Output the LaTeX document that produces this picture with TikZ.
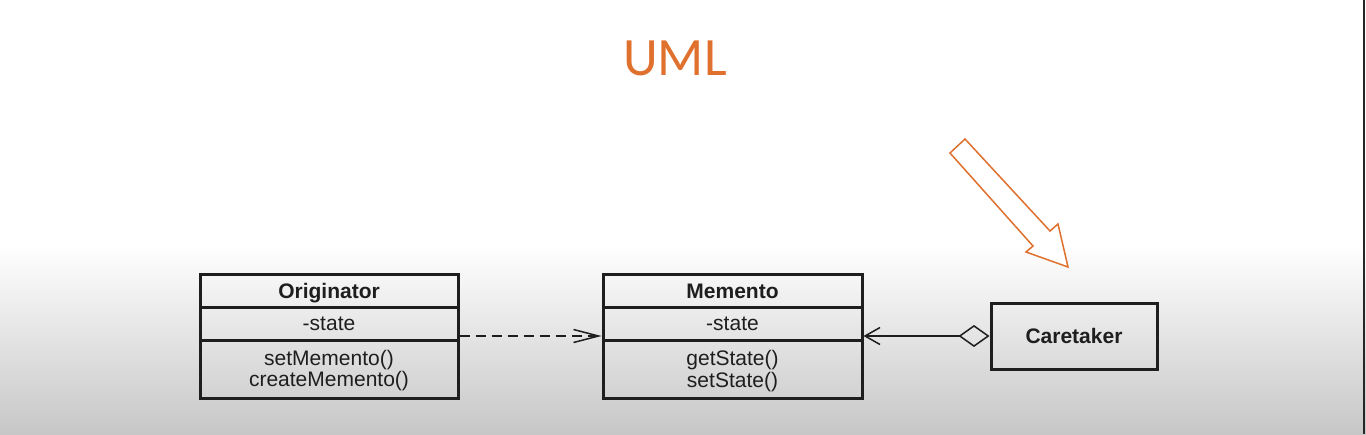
\documentclass[tikz,border=0pt]{standalone}
\usepackage{fontspec}
\setmainfont{Liberation Sans}
\newfontfamily\titlefont{Carlito}
\usetikzlibrary{arrows.meta}
\definecolor{umlorange}{HTML}{E0702E}
\definecolor{inkc}{HTML}{1E1E1E}
\tikzset{
  classbox/.style={draw=inkc, line width=3pt, rectangle, inner sep=0pt},
  sepline/.style={draw=inkc, line width=3pt},
  txt/.style={anchor=base, inner sep=0pt, text=inkc, font=\fontsize{21}{24}\selectfont},
  btxt/.style={txt, font=\fontsize{21}{24}\selectfont\bfseries},
  dep/.style={draw=inkc, line width=1.5pt, dash pattern=on 10pt off 6pt, -{Straight Barb[length=25pt,width=13pt,line width=1.5pt]}},
  agg/.style={draw=inkc, line width=1.5pt, {Straight Barb[length=15pt,width=17pt,line width=1.5pt]}-{Diamond[open,length=31pt,width=22pt,line width=1.5pt]}},
  bigarrow/.style={draw=umlorange, line width=1.5pt, fill=white, line join=miter}
}
\begin{document}
\begin{tikzpicture}[x=1pt,y=-1pt]
\useasboundingbox (0,0) rectangle (1366,434);
% background
\fill[white] (0,0) rectangle (1366,246);
\shade[top color=white, bottom color=black!22] (0,245) rectangle (1366,434);
\draw[black!85, line width=2pt] (1364,0) -- (1364,434);
% title
\node[anchor=base, inner sep=0pt, text=umlorange, font=\titlefont\fontsize{54}{60}\selectfont] (title) at (675,75) {UML};
% orange arrow
\draw[bigarrow] (965,139) -- (1050,231) -- (1058,224) -- (1068,267) -- (1026,252) -- (1033,246) -- (950,153) -- cycle;
% Originator
\node[classbox, minimum width=258pt, minimum height=124pt] (orig) at (329,336) {};
\draw[sepline] (200,307) -- (458,307);
\draw[sepline] (200,340) -- (458,340);
\node[btxt] (origname) at (329,298) {Originator};
\node[txt] (origattr) at (329,330) {-state};
\node[txt] (origm1) at (329,365) {setMemento()};
\node[txt] (origm2) at (329,386) {createMemento()};
% Memento
\node[classbox, minimum width=259pt, minimum height=124pt] (mem) at (732.5,336) {};
\draw[sepline] (603,307) -- (862,307);
\draw[sepline] (603,340) -- (862,340);
\node[btxt] (memname) at (732.5,298) {Memento};
\node[txt] (memattr) at (732.5,330) {-state};
\node[txt] (memm1) at (732.5,365) {getState()};
\node[txt] (memm2) at (732.5,387) {setState()};
% Caretaker
\node[classbox, minimum width=166pt, minimum height=66pt] (care) at (1074,336) {};
\node[btxt] (carename) at (1074,343) {Caretaker};
% connectors
\draw[dep] (orig.east) -- (mem.west);
\draw[agg] (mem.east) -- (care.west);
\end{tikzpicture}
\end{document}
